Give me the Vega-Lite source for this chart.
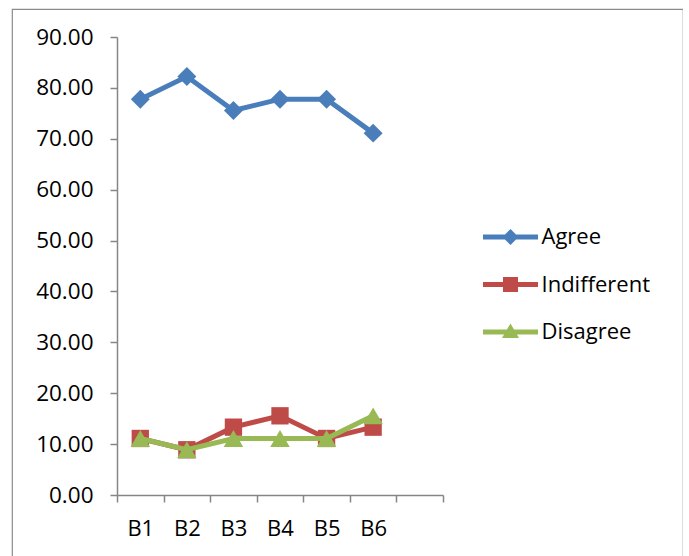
{
  "$schema": "https://vega.github.io/schema/vega-lite/v6.json",
  "autosize": "none",
  "padding": {"left": 12, "top": 9, "right": 0, "bottom": 0},
  "width": 671,
  "height": 571,
  "background": "white",
  "config": {
    "view": {"stroke": "#8a8a8a", "strokeWidth": 1.2},
    "font": "Open Sans"
  },
  "data": {
    "values": [
      {"cat": "B1", "series": "Agree", "value": 77.78},
      {"cat": "B2", "series": "Agree", "value": 82.22},
      {"cat": "B3", "series": "Agree", "value": 75.56},
      {"cat": "B4", "series": "Agree", "value": 77.78},
      {"cat": "B5", "series": "Agree", "value": 77.78},
      {"cat": "B6", "series": "Agree", "value": 71.11},
      {"cat": "B1", "series": "Indifferent", "value": 11.11},
      {"cat": "B2", "series": "Indifferent", "value": 8.89},
      {"cat": "B3", "series": "Indifferent", "value": 13.33},
      {"cat": "B4", "series": "Indifferent", "value": 15.56},
      {"cat": "B5", "series": "Indifferent", "value": 11.11},
      {"cat": "B6", "series": "Indifferent", "value": 13.33},
      {"cat": "B1", "series": "Disagree", "value": 11.11},
      {"cat": "B2", "series": "Disagree", "value": 8.89},
      {"cat": "B3", "series": "Disagree", "value": 11.11},
      {"cat": "B4", "series": "Disagree", "value": 11.11},
      {"cat": "B5", "series": "Disagree", "value": 11.11},
      {"cat": "B6", "series": "Disagree", "value": 15.56}
    ]
  },
  "encoding": {
    "x": {
      "field": "cat", "type": "nominal",
      "scale": {"type": "band", "domain": ["B1", "B2", "B3", "B4", "B5", "B6", " "], "range": [105, 431], "paddingInner": 0, "paddingOuter": 0},
      "axis": {
        "title": null, "orient": "bottom", "offset": -85, "labelAngle": 0,
        "tickBand": "extent", "tickSize": 7, "tickWidth": 1.5, "tickColor": "#868686",
        "domainColor": "#868686", "domainWidth": 1.5,
        "labelFontSize": 22, "labelColor": "#000000", "labelPadding": 16, "labelFont": "Open Sans"
      }
    },
    "y": {
      "field": "value", "type": "quantitative",
      "scale": {"domain": [0, 90], "range": [486, 28], "nice": false, "zero": true},
      "axis": {
        "title": null, "orient": "left", "offset": -105, "grid": false,
        "values": [0, 10, 20, 30, 40, 50, 60, 70, 80, 90], "format": ".2f",
        "tickSize": 7, "tickWidth": 1.5, "tickColor": "#868686",
        "domainColor": "#868686", "domainWidth": 1.5,
        "labelFontSize": 22.5, "labelColor": "#000000", "labelPadding": 17, "labelFont": "Open Sans"
      }
    },
    "color": {
      "field": "series", "type": "nominal",
      "scale": {"domain": ["Agree", "Indifferent", "Disagree"], "range": ["#4A7EBB", "#BE4B48", "#98B954"]},
      "legend": {
        "title": null, "orient": "none", "legendX": 470, "legendY": 217,
        "padding": 0, "rowPadding": 25.5, "symbolSize": 400, "symbolOffset": 17.5, "labelOffset": 20,
        "symbolStrokeWidth": 0,
        "labelFontSize": 22, "labelColor": "#000000", "labelFont": "Open Sans",
        "encode": {
          "symbols": {
            "update": {
              "shape": {"signal": "datum.value === 'Agree' ? 'M-2.75,-0.24H2.75V0.24H-2.75Z M0,-0.8L0.8,0L0,0.8L-0.8,0Z' : (datum.value === 'Indifferent' ? 'M-2.75,-0.24H2.75V0.24H-2.75Z M-0.75,-0.75H0.75V0.75H-0.75Z' : 'M-2.75,-0.24H2.75V0.24H-2.75Z M0,-0.85L0.85,0.6H-0.85Z')"},
              "fill": {"scale": "color", "field": "value"},
              "stroke": {"value": "transparent"},
              "strokeWidth": {"value": 0},
              "opacity": {"value": 1}
            }
          }
        }
      }
    }
  },
  "layer": [
    {"transform": [{"filter": "datum.series === 'Agree'"}], "mark": {"type": "line", "strokeWidth": 5}},
    {"transform": [{"filter": "datum.series === 'Agree'"}], "mark": {"type": "point", "shape": "diamond", "filled": true, "size": 360, "opacity": 1}},
    {"transform": [{"filter": "datum.series === 'Indifferent'"}], "mark": {"type": "line", "strokeWidth": 5}},
    {"transform": [{"filter": "datum.series === 'Indifferent'"}], "mark": {"type": "point", "shape": "square", "filled": true, "size": 300, "opacity": 1}},
    {"transform": [{"filter": "datum.series === 'Disagree'"}], "mark": {"type": "line", "strokeWidth": 5}},
    {"transform": [{"filter": "datum.series === 'Disagree'"}], "mark": {"type": "point", "shape": "triangle-up", "filled": true, "size": 380, "opacity": 1}}
  ]
}
